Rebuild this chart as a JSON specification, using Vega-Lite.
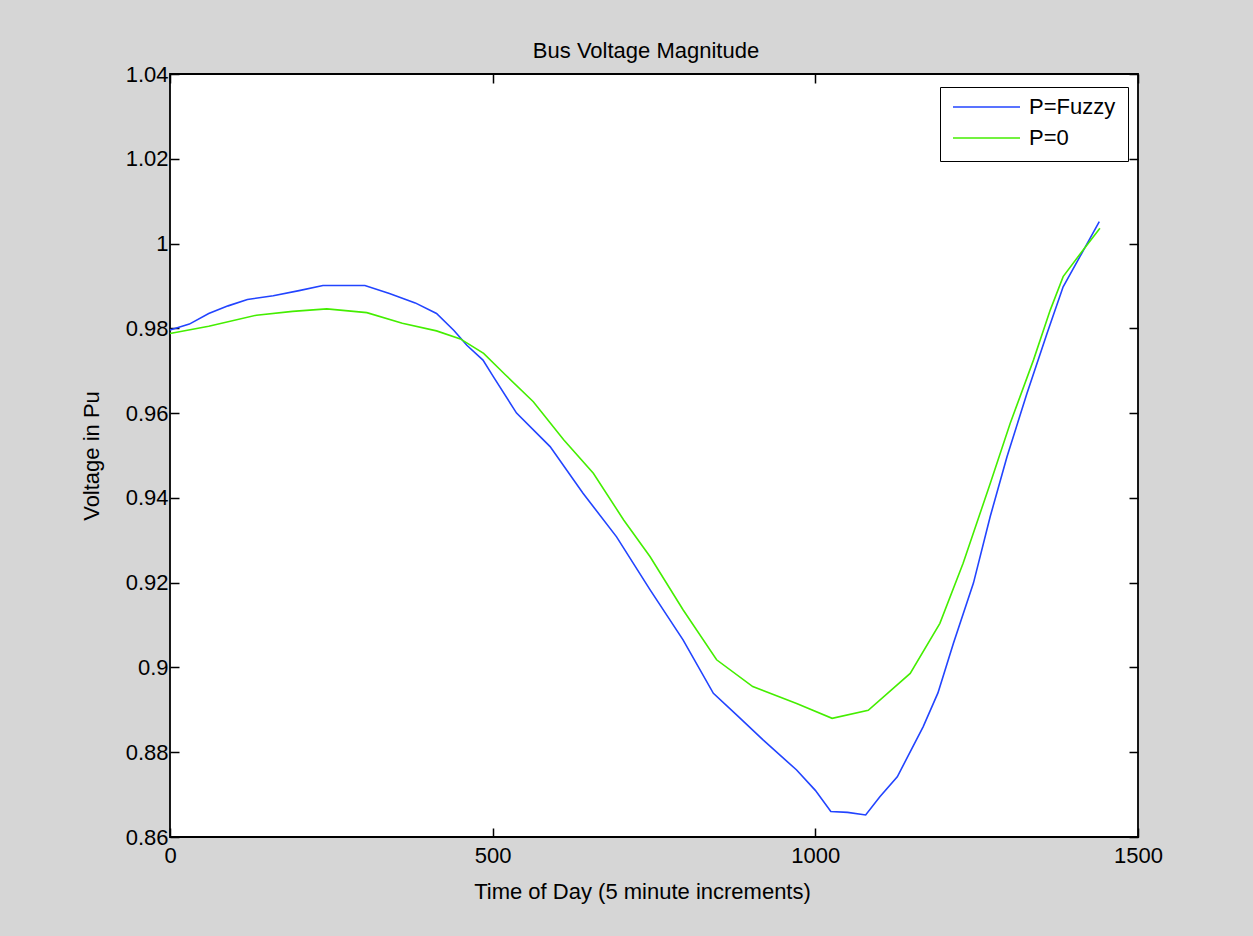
{
  "$schema": "https://vega.github.io/schema/vega-lite/v6.json",
  "autosize": "none",
  "width": 968,
  "height": 763,
  "padding": {"left": 170, "top": 74, "right": 115, "bottom": 99},
  "background": "#d6d6d6",
  "title": {"text": "Bus Voltage Magnitude", "fontSize": 22, "font": "Liberation Sans", "fontWeight": "normal", "color": "black", "anchor": "middle", "offset": 0, "dx": -8},
  "config": {
    "view": {"stroke": "black", "strokeWidth": 1.8, "fill": "white"},
    "axis": {"labelFont": "Liberation Sans", "titleFont": "Liberation Sans", "labelFontSize": 22, "titleFontSize": 22, "titleFontWeight": "normal", "labelColor": "black", "titleColor": "black", "tickColor": "black", "tickWidth": 1.5, "grid": false, "domain": false, "labelFlush": false}
  },
  "data": {"values": [
    {"t": 0, "v": 0.9796, "s": "P=Fuzzy"},
    {"t": 30, "v": 0.9810, "s": "P=Fuzzy"},
    {"t": 60, "v": 0.9835, "s": "P=Fuzzy"},
    {"t": 90, "v": 0.9853, "s": "P=Fuzzy"},
    {"t": 120, "v": 0.9868, "s": "P=Fuzzy"},
    {"t": 160, "v": 0.9877, "s": "P=Fuzzy"},
    {"t": 200, "v": 0.9889, "s": "P=Fuzzy"},
    {"t": 237, "v": 0.9901, "s": "P=Fuzzy"},
    {"t": 270, "v": 0.9901, "s": "P=Fuzzy"},
    {"t": 302, "v": 0.9901, "s": "P=Fuzzy"},
    {"t": 340, "v": 0.9882, "s": "P=Fuzzy"},
    {"t": 380, "v": 0.9860, "s": "P=Fuzzy"},
    {"t": 413, "v": 0.9835, "s": "P=Fuzzy"},
    {"t": 440, "v": 0.9795, "s": "P=Fuzzy"},
    {"t": 460, "v": 0.9760, "s": "P=Fuzzy"},
    {"t": 485, "v": 0.9725, "s": "P=Fuzzy"},
    {"t": 501, "v": 0.9686, "s": "P=Fuzzy"},
    {"t": 537, "v": 0.9600, "s": "P=Fuzzy"},
    {"t": 589, "v": 0.9521, "s": "P=Fuzzy"},
    {"t": 640, "v": 0.9411, "s": "P=Fuzzy"},
    {"t": 692, "v": 0.9308, "s": "P=Fuzzy"},
    {"t": 744, "v": 0.9183, "s": "P=Fuzzy"},
    {"t": 795, "v": 0.9065, "s": "P=Fuzzy"},
    {"t": 842, "v": 0.8939, "s": "P=Fuzzy"},
    {"t": 880, "v": 0.8885, "s": "P=Fuzzy"},
    {"t": 919, "v": 0.8829, "s": "P=Fuzzy"},
    {"t": 971, "v": 0.8758, "s": "P=Fuzzy"},
    {"t": 1000, "v": 0.8710, "s": "P=Fuzzy"},
    {"t": 1024, "v": 0.8660, "s": "P=Fuzzy"},
    {"t": 1050, "v": 0.8658, "s": "P=Fuzzy"},
    {"t": 1078, "v": 0.8652, "s": "P=Fuzzy"},
    {"t": 1100, "v": 0.8695, "s": "P=Fuzzy"},
    {"t": 1127, "v": 0.8742, "s": "P=Fuzzy"},
    {"t": 1167, "v": 0.8860, "s": "P=Fuzzy"},
    {"t": 1190, "v": 0.8940, "s": "P=Fuzzy"},
    {"t": 1214, "v": 0.9057, "s": "P=Fuzzy"},
    {"t": 1245, "v": 0.9199, "s": "P=Fuzzy"},
    {"t": 1271, "v": 0.9356, "s": "P=Fuzzy"},
    {"t": 1297, "v": 0.9497, "s": "P=Fuzzy"},
    {"t": 1328, "v": 0.9647, "s": "P=Fuzzy"},
    {"t": 1359, "v": 0.9788, "s": "P=Fuzzy"},
    {"t": 1384, "v": 0.9898, "s": "P=Fuzzy"},
    {"t": 1410, "v": 0.9969, "s": "P=Fuzzy"},
    {"t": 1440, "v": 1.0052, "s": "P=Fuzzy"},
    {"t": 0, "v": 0.9788, "s": "P=0"},
    {"t": 60, "v": 0.9805, "s": "P=0"},
    {"t": 134, "v": 0.9831, "s": "P=0"},
    {"t": 190, "v": 0.9840, "s": "P=0"},
    {"t": 243, "v": 0.9846, "s": "P=0"},
    {"t": 305, "v": 0.9837, "s": "P=0"},
    {"t": 360, "v": 0.9812, "s": "P=0"},
    {"t": 413, "v": 0.9794, "s": "P=0"},
    {"t": 450, "v": 0.9775, "s": "P=0"},
    {"t": 486, "v": 0.9741, "s": "P=0"},
    {"t": 520, "v": 0.9690, "s": "P=0"},
    {"t": 563, "v": 0.9627, "s": "P=0"},
    {"t": 610, "v": 0.9537, "s": "P=0"},
    {"t": 656, "v": 0.9458, "s": "P=0"},
    {"t": 703, "v": 0.9348, "s": "P=0"},
    {"t": 744, "v": 0.9261, "s": "P=0"},
    {"t": 795, "v": 0.9136, "s": "P=0"},
    {"t": 847, "v": 0.9018, "s": "P=0"},
    {"t": 903, "v": 0.8955, "s": "P=0"},
    {"t": 971, "v": 0.8915, "s": "P=0"},
    {"t": 1026, "v": 0.8880, "s": "P=0"},
    {"t": 1082, "v": 0.8899, "s": "P=0"},
    {"t": 1147, "v": 0.8986, "s": "P=0"},
    {"t": 1193, "v": 0.9104, "s": "P=0"},
    {"t": 1229, "v": 0.9246, "s": "P=0"},
    {"t": 1271, "v": 0.9434, "s": "P=0"},
    {"t": 1302, "v": 0.9576, "s": "P=0"},
    {"t": 1338, "v": 0.9725, "s": "P=0"},
    {"t": 1364, "v": 0.9843, "s": "P=0"},
    {"t": 1384, "v": 0.9922, "s": "P=0"},
    {"t": 1415, "v": 0.9985, "s": "P=0"},
    {"t": 1441, "v": 1.0036, "s": "P=0"}
  ]},
  "layer": [
    {
      "mark": {"type": "line", "strokeWidth": 1.6},
      "encoding": {
        "x": {"field": "t", "type": "quantitative", "scale": {"domain": [0, 1500], "nice": false, "zero": false},
              "axis": {"orient": "bottom", "values": [0, 500, 1000, 1500], "format": "d", "tickSize": -9, "labelPadding": 17, "title": "Time of Day (5 minute increments)", "titlePadding": 15, "titleX": 472}},
        "y": {"field": "v", "type": "quantitative", "scale": {"domain": [0.86, 1.04], "nice": false, "zero": false},
              "axis": {"orient": "left", "values": [0.86, 0.88, 0.9, 0.92, 0.94, 0.96, 0.98, 1, 1.02, 1.04], "format": "~g", "tickSize": -9, "labelPadding": 11, "title": "Voltage in Pu", "titlePadding": 22}},
        "color": {"field": "s", "type": "nominal", "sort": ["P=Fuzzy", "P=0"],
                  "scale": {"domain": ["P=Fuzzy", "P=0"], "range": ["#2244ff", "#44ee00"]},
                  "legend": {"title": null, "orient": "none", "legendX": 770, "legendY": 13, "symbolType": "stroke", "symbolSize": 4489, "symbolStrokeWidth": 1.6, "labelFont": "Liberation Sans", "labelFontSize": 22, "labelColor": "black", "padding": 12, "strokeColor": "black", "fillColor": "white", "clipHeight": 16, "rowPadding": 9, "labelOffset": 8}}
      }
    },
    {
      "mark": {"type": "line", "opacity": 0},
      "encoding": {
        "x": {"field": "t", "type": "quantitative", "axis": {"orient": "top", "values": [0, 500, 1000, 1500], "tickSize": -9, "labels": false, "title": null}},
        "y": {"field": "v", "type": "quantitative", "axis": {"orient": "right", "values": [0.86, 0.88, 0.9, 0.92, 0.94, 0.96, 0.98, 1, 1.02, 1.04], "tickSize": -9, "labels": false, "title": null}},
        "detail": {"field": "s", "type": "nominal"}
      }
    }
  ],
  "resolve": {"axis": {"x": "independent", "y": "independent"}}
}
